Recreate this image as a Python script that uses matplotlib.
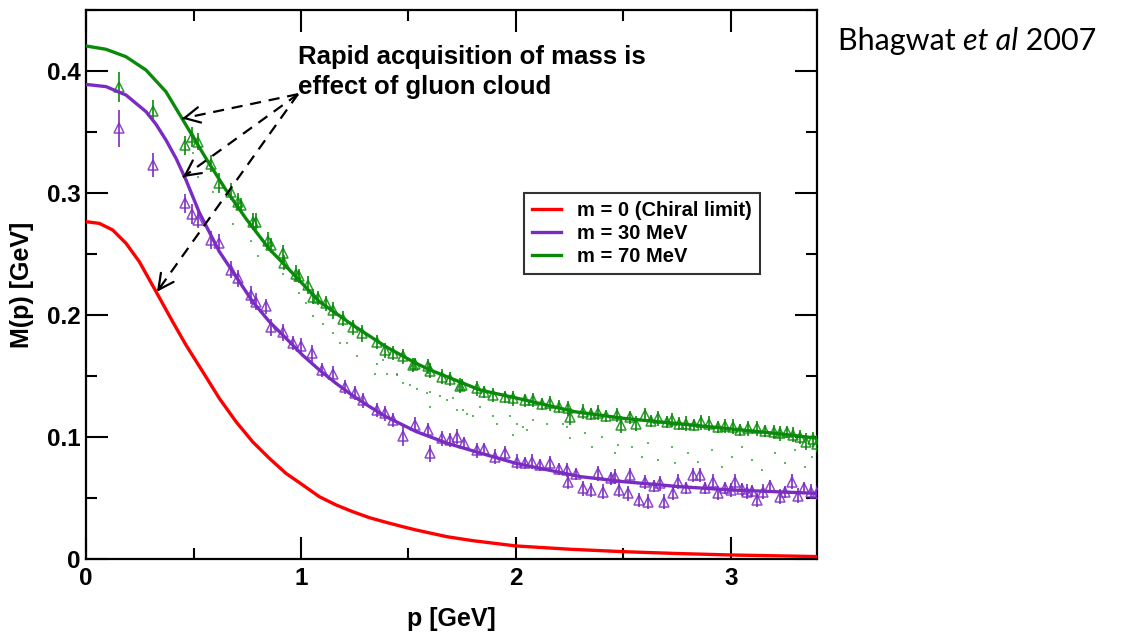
import matplotlib
matplotlib.use("Agg")
import matplotlib.pyplot as plt
from matplotlib.ticker import FixedLocator, FixedFormatter, MultipleLocator

plt.rcParams['font.family'] = ['Liberation Sans', 'DejaVu Sans']
plt.rcParams['font.weight'] = 'bold'

# ---------------- data ----------------
# model curves
p_chiral = [0.0, 0.062, 0.124, 0.186, 0.248, 0.326, 0.403, 0.465, 0.543, 0.620, 0.698, 0.775,
            0.853, 0.930, 1.008, 1.085, 1.163, 1.240, 1.318, 1.395, 1.473, 1.535, 1.678, 1.80,
            2.0, 2.25, 2.5, 2.75, 3.0, 3.4]
M_chiral = [0.2765, 0.2751, 0.2697, 0.2588, 0.2437, 0.2191, 0.1945, 0.1754, 0.1535, 0.1317,
            0.1125, 0.0961, 0.0825, 0.0702, 0.0607, 0.0511, 0.0443, 0.0388, 0.0339, 0.0301,
            0.0265, 0.0238, 0.0183, 0.0150, 0.0107, 0.0080, 0.0060, 0.0045, 0.0033, 0.0020]

p_m30 = [0.0, 0.093, 0.186, 0.279, 0.325, 0.372, 0.420, 0.465, 0.527, 0.620, 0.698, 0.775,
         0.853, 0.930, 1.008, 1.085, 1.163, 1.240, 1.318, 1.395, 1.535, 1.678, 1.850, 2.0, 2.3,
         2.5, 2.76, 3.0, 3.4]
M_m30 = [0.389, 0.3872, 0.3803, 0.3667, 0.3565, 0.3434, 0.3280, 0.3107, 0.284, 0.252, 0.2314,
         0.211, 0.1945, 0.181, 0.167, 0.155, 0.144, 0.134, 0.125, 0.1167, 0.1045, 0.095, 0.086,
         0.0784, 0.0675, 0.0634, 0.0593, 0.0566, 0.0538]

p_m70 = [0.0, 0.093, 0.186, 0.279, 0.372, 0.465, 0.558, 0.651, 0.744, 0.853, 0.930, 1.085,
         1.240, 1.395, 1.535, 1.600, 1.833, 2.0, 2.274, 2.5, 2.894, 3.205, 3.4]
M_m70 = [0.4205, 0.4178, 0.4117, 0.4008, 0.383, 0.3557, 0.3284, 0.3025, 0.279, 0.254, 0.240,
         0.211, 0.1918, 0.174, 0.1604, 0.155, 0.1385, 0.132, 0.1207, 0.1153, 0.1085, 0.103, 0.099]

# lattice data, m = 70 MeV (green triangles)
p_lat70 = [0.155, 0.310, 0.462, 0.493, 0.519, 0.581, 0.617, 0.674, 0.705, 0.720, 0.775, 0.790,
           0.845, 0.860, 0.915, 0.922, 0.977, 0.990, 1.031, 1.054, 1.080, 1.116, 1.150, 1.197,
           1.243, 1.282, 1.352, 1.390, 1.430, 1.476, 1.522, 1.530, 1.592, 1.600, 1.654, 1.693,
           1.740, 1.747, 1.817, 1.850, 1.895, 1.950, 1.988, 2.040, 2.080, 2.120, 2.158, 2.200,
           2.243, 2.250, 2.313, 2.350, 2.380, 2.420, 2.468, 2.490, 2.530, 2.560, 2.600, 2.630,
           2.660, 2.700, 2.724, 2.760, 2.790, 2.830, 2.860, 2.900, 2.940, 2.970, 3.010, 3.040,
           3.080, 3.120, 3.160, 3.200, 3.228, 3.260, 3.290, 3.320, 3.350, 3.380, 3.400]
M_lat70 = [0.387, 0.367, 0.339, 0.346, 0.342, 0.324, 0.308, 0.301, 0.293, 0.290, 0.2765, 0.2765,
           0.261, 0.257, 0.2505, 0.243, 0.234, 0.232, 0.2246, 0.215, 0.214, 0.2096, 0.204, 0.197,
           0.190, 0.185, 0.178, 0.171, 0.169, 0.166, 0.159, 0.160, 0.158, 0.1543, 0.1495, 0.1475,
           0.142, 0.1426, 0.140, 0.137, 0.1344, 0.133, 0.1317, 0.130, 0.1303, 0.127, 0.1276, 0.125,
           0.1235, 0.1167, 0.1207, 0.119, 0.120, 0.117, 0.118, 0.110, 0.116, 0.111, 0.118, 0.113,
           0.1153, 0.112, 0.114, 0.111, 0.111, 0.110, 0.112, 0.111, 0.108, 0.109, 0.1085, 0.106,
           0.107, 0.107, 0.105, 0.104, 0.103, 0.104, 0.102, 0.100, 0.096, 0.098, 0.0945]
e_lat70 = [0.012, 0.009, 0.008, 0.008, 0.007, 0.007, 0.008, 0.007, 0.007, 0.006, 0.007, 0.007,
           0.007, 0.006, 0.007, 0.006, 0.007, 0.006, 0.007, 0.006, 0.006, 0.006, 0.007, 0.006,
           0.006, 0.007, 0.006, 0.006, 0.006, 0.006, 0.006, 0.005, 0.006, 0.006, 0.006, 0.006,
           0.006, 0.005, 0.006, 0.005, 0.006, 0.005, 0.006, 0.005, 0.006, 0.005, 0.006, 0.005,
           0.006, 0.007, 0.006, 0.005, 0.006, 0.005, 0.006, 0.007, 0.005, 0.006, 0.006, 0.005,
           0.006, 0.005, 0.006, 0.005, 0.006, 0.005, 0.006, 0.006, 0.005, 0.006, 0.006, 0.005,
           0.006, 0.006, 0.005, 0.006, 0.006, 0.005, 0.006, 0.006, 0.007, 0.006, 0.007]

# lattice data, m = 30 MeV (purple triangles)
p_lat30 = [0.155, 0.310, 0.462, 0.493, 0.519, 0.581, 0.617, 0.674, 0.705, 0.767, 0.790, 0.837,
           0.860, 0.918, 0.964, 1.000, 1.050, 1.096, 1.150, 1.205, 1.251, 1.290, 1.352, 1.390,
           1.430, 1.476, 1.530, 1.592, 1.600, 1.654, 1.693, 1.724, 1.760, 1.817, 1.850, 1.902,
           1.949, 2.003, 2.040, 2.074, 2.110, 2.158, 2.200, 2.236, 2.243, 2.280, 2.313, 2.350,
           2.383, 2.406, 2.440, 2.460, 2.480, 2.522, 2.530, 2.570, 2.600, 2.615, 2.640, 2.670,
           2.690, 2.730, 2.755, 2.790, 2.825, 2.856, 2.880, 2.918, 2.940, 2.970, 3.000, 3.020,
           3.050, 3.073, 3.100, 3.120, 3.150, 3.180, 3.228, 3.250, 3.282, 3.310, 3.340, 3.370, 3.400]
M_lat30 = [0.353, 0.323, 0.2915, 0.283, 0.278, 0.2615, 0.2587, 0.237, 0.230, 0.2164, 0.211, 0.207,
           0.190, 0.186, 0.177, 0.175, 0.1686, 0.155, 0.152, 0.141, 0.136, 0.130, 0.122, 0.1194,
           0.114, 0.101, 0.110, 0.1057, 0.0866, 0.099, 0.0975, 0.1003, 0.095, 0.089, 0.090, 0.0839,
           0.0866, 0.0798, 0.079, 0.0798, 0.077, 0.0784, 0.074, 0.073, 0.0634, 0.070, 0.058, 0.0566,
           0.0702, 0.0552, 0.066, 0.0675, 0.0566, 0.0538, 0.0689, 0.0484, 0.063, 0.047, 0.060, 0.062,
           0.047, 0.054, 0.0634, 0.058, 0.0689, 0.0689, 0.058, 0.0634, 0.054, 0.058, 0.0566, 0.0634,
           0.057, 0.0552, 0.056, 0.0484, 0.0552, 0.060, 0.051, 0.055, 0.0634, 0.052, 0.058, 0.0552, 0.054]
e_lat30 = [0.015, 0.010, 0.008, 0.008, 0.007, 0.007, 0.008, 0.007, 0.007, 0.007, 0.007, 0.006,
           0.007, 0.007, 0.006, 0.006, 0.007, 0.006, 0.006, 0.006, 0.006, 0.006, 0.006, 0.006,
           0.006, 0.008, 0.006, 0.006, 0.007, 0.006, 0.006, 0.006, 0.005, 0.006, 0.005, 0.006,
           0.006, 0.006, 0.005, 0.006, 0.005, 0.006, 0.005, 0.006, 0.006, 0.005, 0.006, 0.006,
           0.006, 0.006, 0.005, 0.006, 0.006, 0.006, 0.006, 0.006, 0.006, 0.006, 0.005, 0.006,
           0.006, 0.006, 0.006, 0.005, 0.006, 0.006, 0.005, 0.006, 0.006, 0.005, 0.006, 0.006,
           0.005, 0.006, 0.005, 0.006, 0.006, 0.005, 0.006, 0.005, 0.006, 0.006, 0.005, 0.006, 0.006]

# faint green scatter between the curves
p_dots = [0.496, 0.519, 0.589, 0.682, 0.767, 0.798, 0.915, 0.992, 1.023, 1.054, 1.101,
          1.150, 1.181, 1.213, 1.259, 1.352, 1.344, 1.399, 1.445, 1.476, 1.507, 1.538, 1.600,
          1.600, 1.647, 1.709, 1.724, 1.755, 1.802, 1.833, 1.895, 1.910, 1.972, 2.003, 2.050,
          2.080, 2.143, 2.220, 2.251, 1.383, 1.445, 1.585, 1.678, 1.771, 1.988, 2.034, 2.236,
          2.321, 2.352, 2.399, 2.460, 2.476, 2.538, 2.585, 2.615, 2.662, 2.724, 2.740, 2.801,
          2.848, 2.910, 2.957, 3.003, 3.050, 3.096, 3.143, 3.205, 3.251, 3.298, 3.344, 3.375]
M_dots = [0.333, 0.313, 0.301, 0.275, 0.261, 0.248, 0.234, 0.218, 0.210, 0.199, 0.193,
          0.185, 0.177, 0.177, 0.166, 0.160, 0.152, 0.152, 0.151, 0.144, 0.143, 0.139, 0.137,
          0.125, 0.134, 0.132, 0.122, 0.122, 0.117, 0.125, 0.117, 0.111, 0.117, 0.111, 0.106,
          0.114, 0.111, 0.111, 0.099, 0.163, 0.152, 0.136, 0.130, 0.119, 0.102, 0.108, 0.1085,
          0.103, 0.092, 0.100, 0.0866, 0.0934, 0.092, 0.0839, 0.0948, 0.0811, 0.092, 0.0784, 0.0866,
          0.0798, 0.0893, 0.0757, 0.0839, 0.092, 0.0811, 0.073, 0.0866, 0.0784, 0.0893, 0.0757, 0.0839]

curve_labels = ['m = 0 (Chiral limit)', 'm = 30 MeV', 'm = 70 MeV']
x_ticks = [0, 1, 2, 3]
x_ticklabels = ['0', '1', '2', '3']
y_ticks = [0.0, 0.1, 0.2, 0.3, 0.4]
y_ticklabels = ['0', '0.1', '0.2', '0.3', '0.4']

annotation_text = 'Rapid acquisition of mass is\neffect of gluon cloud'
arrow_origin = (0.986, 0.381)
arrow_tips = [(0.447, 0.361), (0.451, 0.313), (0.330, 0.219)]

RED = '#ff0000'
PURPLE = '#7a2cc2'
GREEN = '#0a8a0a'

# ---------------- figure ----------------
fig = plt.figure(figsize=(11.21, 6.34), dpi=100)
W, H = 1121, 634
ax = fig.add_axes([86 / W, (H - 559) / H, 731 / W, 549 / H])

# faint dots
ax.plot(p_dots, M_dots, ls='none', marker='s', ms=1.6, mew=0, color='#2f9f2f', alpha=0.75, zorder=2)

# lattice data
ax.errorbar(p_lat70, M_lat70, yerr=e_lat70, fmt='^', ms=7, mfc='none', mec=GREEN, mew=1.1,
            ecolor=GREEN, elinewidth=1.4, capsize=0, color=GREEN, alpha=0.85, zorder=3)
ax.errorbar(p_lat30, M_lat30, yerr=e_lat30, fmt='^', ms=7, mfc='none', mec=PURPLE, mew=1.1,
            ecolor=PURPLE, elinewidth=1.4, capsize=0, color=PURPLE, alpha=0.85, zorder=3)

# curves
l0, = ax.plot(p_chiral, M_chiral, color=RED, lw=2.4, zorder=4, solid_joinstyle='round')
l1, = ax.plot(p_m30, M_m30, color=PURPLE, lw=2.4, zorder=4, solid_joinstyle='round')
l2, = ax.plot(p_m70, M_m70, color=GREEN, lw=2.4, zorder=4, solid_joinstyle='round')

ax.set_xlim(0, 3.4)
ax.set_ylim(0, 0.45)

ax.xaxis.set_major_locator(FixedLocator(x_ticks))
ax.xaxis.set_major_formatter(FixedFormatter(x_ticklabels))
ax.xaxis.set_minor_locator(MultipleLocator(0.5))
ax.yaxis.set_major_locator(FixedLocator(y_ticks))
ax.yaxis.set_major_formatter(FixedFormatter(y_ticklabels))
ax.yaxis.set_minor_locator(MultipleLocator(0.05))

ax.tick_params(which='both', direction='in', top=True, right=True, width=1.5, colors='black')
ax.tick_params(which='major', length=15.5)
ax.tick_params(which='minor', length=7.8)
ax.tick_params(axis='x', which='major', labelsize=17.5, pad=6)
ax.tick_params(axis='y', which='major', labelsize=17.5, pad=4)
for lab in ax.get_xticklabels() + ax.get_yticklabels():
    lab.set_fontweight('bold')
for sp in ax.spines.values():
    sp.set_linewidth(1.6)

ax.set_xlabel('p [GeV]', fontsize=18, fontweight='bold', labelpad=12)
ax.set_ylabel('M(p) [GeV]', fontsize=18, fontweight='bold', labelpad=9)

leg = ax.legend([l0, l1, l2], curve_labels, loc='upper left', bbox_to_anchor=(0.599, 0.667),
                borderaxespad=0, frameon=True, fancybox=False, edgecolor='black',
                prop={'weight': 'bold', 'size': 14.5}, handlelength=1.45, handletextpad=0.8,
                labelspacing=0.2, borderpad=0.4)
leg.get_frame().set_linewidth(1.5)

# annotation text and arrows
ax.text(0.986, 0.4215, annotation_text, fontsize=18.5, fontweight='bold', va='top', ha='left',
        linespacing=1.32)
for tip in arrow_tips:
    ax.plot([arrow_origin[0], tip[0]], [arrow_origin[1], tip[1]], color='black', lw=1.6,
            ls=(0, (5, 3.5)), zorder=5)
    dx = arrow_origin[0] - tip[0]
    dy = arrow_origin[1] - tip[1]
    ax.annotate('', xy=tip, xytext=(tip[0] + 0.03 * dx, tip[1] + 0.03 * dy),
                arrowprops=dict(arrowstyle='->, head_length=0.55, head_width=0.28',
                                color='black', lw=1.6, mutation_scale=20,
                                shrinkA=0, shrinkB=0), zorder=5)

# citation text
fig.canvas.draw()
r = fig.canvas.get_renderer()
x0 = 838 / W
yb = 1 - 50 / H
parts = [('Bhagwat ', 'normal'), ('et al', 'italic'), (' 2007', 'normal')]
xx = x0
for s, st in parts:
    t = fig.text(xx, yb, s, fontsize=22, fontfamily='Lato', fontweight='normal', fontstyle=st,
                 va='baseline', ha='left')
    bb = t.get_window_extent(renderer=r)
    xx += bb.width / W

fig.savefig('out.png', dpi=100)
